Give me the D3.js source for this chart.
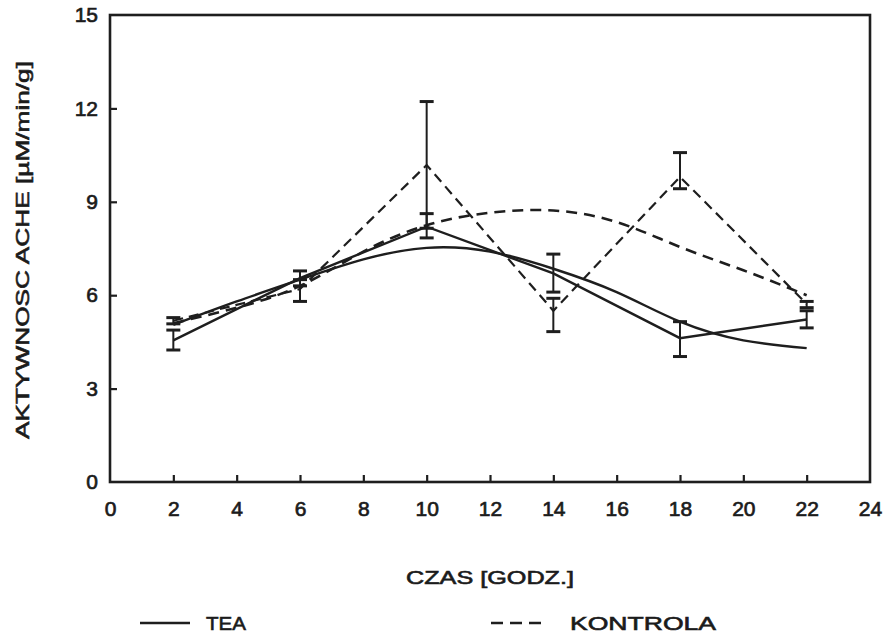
<!DOCTYPE html>
<html>
<head>
<meta charset="utf-8">
<script src="https://cdn.jsdelivr.net/npm/d3@7"></script>
<style>
  body { margin: 0; background: #fff; }
  text { font-family: "Liberation Sans", Arial, sans-serif; fill: #1a1a1a; }
</style>
</head>
<body>
<svg width="891" height="640"></svg>
<script>
// measured hours
var hours = [2, 6, 10, 14, 18, 22];

// TEA group: means and error bar ends
var teaMean = [4.55, 6.55, 8.2, 6.7, 4.62, 5.22];
var teaHi   = [4.88, 6.78, 8.62, 7.32, 5.15, 5.5];
var teaLo   = [4.24, 6.3, 7.84, 6.1, 4.03, 4.95];

// KONTROLA group
var konMean = [5.18, 6.2, 10.18, 5.5, 9.8, 5.72];
var konHi   = [5.28, 6.5, 12.22, 5.9, 10.58, 5.8];
var konLo   = [5.08, 5.8, 8.15, 4.83, 9.42, 5.6];

// fitted (cosinor) curves
var fitHours = [2, 4, 6, 8, 10, 12, 14, 16, 18, 20, 22];
var teaFit = [5.05, 5.8, 6.5, 7.15, 7.52, 7.4, 6.85, 6.1, 5.15, 4.55, 4.3];
var konFit = [5.1, 5.6, 6.3, 7.4, 8.25, 8.65, 8.72, 8.35, 7.55, 6.8, 6.0];

var xTicks = [0, 2, 4, 6, 8, 10, 12, 14, 16, 18, 20, 22, 24];
var yTicks = [0, 3, 6, 9, 12, 15];

var svg = d3.select("svg");
var ink = "#1e1e1e";

var x = d3.scaleLinear().domain([0, 24]).range([110, 870]);
var y = d3.scaleLinear().domain([0, 15]).range([482, 15]);

// frame
svg.append("rect")
  .attr("x", x(0)).attr("y", y(15))
  .attr("width", x(24) - x(0)).attr("height", y(0) - y(15))
  .attr("fill", "none").attr("stroke", ink).attr("stroke-width", 2.6);

// axes with inward ticks
var xAxis = svg.append("g")
  .attr("transform", "translate(0," + y(0) + ")")
  .call(d3.axisBottom(x).tickValues(xTicks).tickSizeInner(-7).tickSizeOuter(0).tickPadding(19));
var yAxis = svg.append("g")
  .attr("transform", "translate(" + x(0) + ",0)")
  .call(d3.axisLeft(y).tickValues(yTicks).tickSizeInner(-7).tickSizeOuter(0).tickPadding(12));

[xAxis, yAxis].forEach(function(g) {
  g.select(".domain").remove();
  g.selectAll(".tick line").attr("stroke", ink).attr("stroke-width", 2.2);
  g.selectAll(".tick text")
    .attr("font-size", 21)
    .attr("fill", ink)
    .attr("stroke", ink).attr("stroke-width", 0.7);
});
// no tick marks at the ends
xAxis.selectAll(".tick").filter(function(d) { return d === 0 || d === 24; }).select("line").remove();
yAxis.selectAll(".tick").filter(function(d) { return d === 0 || d === 15; }).select("line").remove();

// axis titles
svg.append("text")
  .attr("x", 490).attr("y", 584)
  .attr("text-anchor", "middle")
  .attr("font-size", 18).attr("stroke", ink).attr("stroke-width", 0.6)
  .attr("textLength", 168).attr("lengthAdjust", "spacingAndGlyphs")
  .text("CZAS [GODZ.]");

svg.append("text")
  .attr("transform", "translate(29,250) rotate(-90)")
  .attr("text-anchor", "middle")
  .attr("font-size", 18).attr("stroke", ink).attr("stroke-width", 0.6)
  .attr("textLength", 378).attr("lengthAdjust", "spacingAndGlyphs")
  .text("AKTYWNOSC ACHE [µM/min/g]");

// lines
var line = d3.line()
  .x(function(d) { return x(d[0]); })
  .y(function(d) { return y(d[1]); });
var smooth = d3.line()
  .x(function(d) { return x(d[0]); })
  .y(function(d) { return y(d[1]); })
  .curve(d3.curveNatural);

var plot = svg.append("g").attr("fill", "none").attr("stroke", ink);

plot.append("path")
  .attr("d", smooth(d3.zip(fitHours, teaFit)))
  .attr("stroke-width", 2.4);
plot.append("path")
  .attr("d", smooth(d3.zip(fitHours, konFit)))
  .attr("stroke-width", 2.6).attr("stroke-dasharray", "11,7");

plot.append("path")
  .attr("d", line(d3.zip(hours, teaMean)))
  .attr("stroke-width", 2.4);
plot.append("path")
  .attr("d", line(d3.zip(hours, konMean)))
  .attr("stroke-width", 2.2).attr("stroke-dasharray", "10,6");

// error bars
function errorBars(lo, hi) {
  var g = plot.append("g").attr("stroke-width", 2);
  var rows = hours.map(function(h, i) { return { h: h, lo: lo[i], hi: hi[i] }; });
  g.selectAll(".stem").data(rows).enter().append("line")
    .attr("x1", function(d) { return x(d.h); }).attr("x2", function(d) { return x(d.h); })
    .attr("y1", function(d) { return y(d.lo); }).attr("y2", function(d) { return y(d.hi); });
  ["lo", "hi"].forEach(function(k) {
    g.selectAll(".cap-" + k).data(rows).enter().append("line")
      .attr("stroke-width", 3)
      .attr("x1", function(d) { return x(d.h) - 7; }).attr("x2", function(d) { return x(d.h) + 7; })
      .attr("y1", function(d) { return y(d[k]); }).attr("y2", function(d) { return y(d[k]); });
  });
}
errorBars(teaLo, teaHi);
errorBars(konLo, konHi);

// legend
var legend = svg.append("g");
legend.append("line")
  .attr("x1", 140).attr("x2", 190).attr("y1", 623).attr("y2", 623)
  .attr("stroke", ink).attr("stroke-width", 2.6);
legend.append("text")
  .attr("x", 206).attr("y", 630).attr("font-size", 18)
  .attr("stroke", ink).attr("stroke-width", 0.6)
  .attr("textLength", 40).attr("lengthAdjust", "spacingAndGlyphs")
  .text("TEA");
legend.append("line")
  .attr("x1", 491).attr("x2", 547).attr("y1", 623).attr("y2", 623)
  .attr("stroke", ink).attr("stroke-width", 2.6).attr("stroke-dasharray", "12,7");
legend.append("text")
  .attr("x", 570).attr("y", 630).attr("font-size", 18)
  .attr("stroke", ink).attr("stroke-width", 0.6)
  .attr("textLength", 146).attr("lengthAdjust", "spacingAndGlyphs")
  .text("KONTROLA");
</script>
</body>
</html>
